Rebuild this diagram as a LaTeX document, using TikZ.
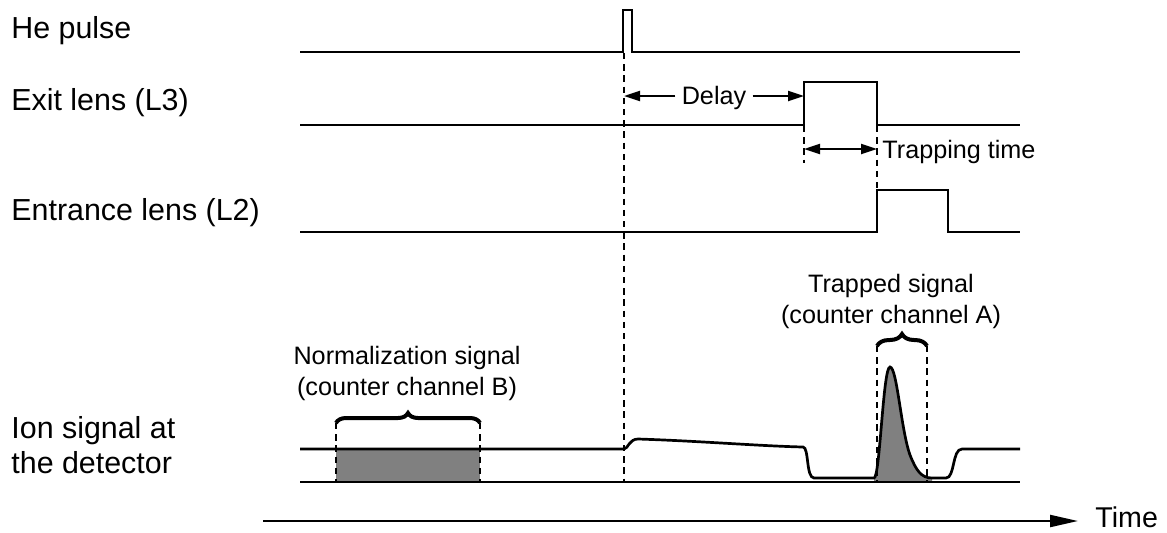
\documentclass[tikz,border=0pt]{standalone}
\usepackage{fontspec}
\setmainfont{Liberation Sans}
\usetikzlibrary{arrows.meta,decorations.pathreplacing}
\begin{document}
\begin{tikzpicture}[x=0.5pt,y=-0.5pt,
  wave/.style={line width=1.35pt, line join=miter},
  guide/.style={line width=1.4pt, dash pattern=on 3.2pt off 2.4pt},
  dimarrow/.style={line width=1.1pt, -{Triangle[length=8pt,width=5pt]}},
  dimboth/.style={line width=1.1pt, {Triangle[length=8pt,width=5pt]}-{Triangle[length=8pt,width=5pt]}},
  timearrow/.style={line width=1.1pt, -{Triangle[length=14pt,width=6pt]}},
  rowlabel/.style={font=\fontsize{15.2}{17.5}\selectfont, inner sep=0pt, anchor=base west, align=left},
  note/.style={font=\fontsize{12.6}{14.5}\selectfont, inner sep=0pt},
  brc/.style={decorate, decoration={brace, amplitude=#1}, line width=2pt},
  shade/.style={fill=gray, draw=none}
]
\useasboundingbox (0,0) rectangle (1167,532);

% row labels (multi-line nodes are anchored on their last baseline)
\node[rowlabel] (he)   at (11,38)  {He pulse};
\node[rowlabel] (exit) at (11,110) {Exit lens (L3)};
\node[rowlabel] (entr) at (11,220) {Entrance lens (L2)};
\node[rowlabel] (ion)  at (11,473) {Ion signal at\\the detector};

% shaded integration windows
\fill[shade] (336,449) rectangle (480,482);
\fill[shade] (874,482) -- (874,478)
  .. controls (880,478) and (883,367) .. (890,367)
  .. controls (897,367) and (901,430) .. (910,455)
  .. controls (916,470) and (921,478) .. (932,478) -- (932,482) -- cycle;

% dashed timing guides
\draw[guide] (624,53)  -- (624,482);
\draw[guide] (804,126) -- (804,163);
\draw[guide] (877,126) -- (877,190);
\draw[guide] (336,423) -- (336,482);
\draw[guide] (480,423) -- (480,482);
\draw[guide] (877,346) -- (877,482);
\draw[guide] (927,346) -- (927,482);

% He pulse
\draw[wave] (300,52) -- (623,52) -- (623,10) -- (632,10) -- (632,52) -- (1020,52);
% exit lens L3
\draw[wave] (300,125) -- (804,125) -- (804,82) -- (877,82) -- (877,125) -- (1020,125);
% entrance lens L2
\draw[wave] (300,232) -- (877,232) -- (877,190) -- (948,190) -- (948,232) -- (1020,232);

% ion signal: zero line and detector trace
\draw[wave] (300,482) -- (1020,482);
\draw[wave] (300,449) -- (624,449)
  .. controls (628,449) and (629,439) .. (638,439)
  .. controls (700,441) and (760,446) .. (803,447)
  .. controls (809,447) and (806,478) .. (814,478)
  -- (874,478)
  .. controls (880,478) and (883,367) .. (890,367)
  .. controls (897,367) and (901,430) .. (910,455)
  .. controls (916,470) and (921,478) .. (932,478)
  -- (946,478)
  .. controls (955,478) and (952,449) .. (962,449)
  -- (1020,449);

% delay
\coordinate (d0) at (624,96);
\coordinate (d1) at (804,96);
\node[note, inner xsep=3pt] (delay) at (714,104) [anchor=base] {Delay};
\draw[dimarrow] (delay.west |- d0) -- (d0);
\draw[dimarrow] (delay.east |- d1) -- (d1);

% trapping time
\coordinate (s0) at (804,149);
\coordinate (s1) at (877,149);
\draw[dimboth] (s0) -- (s1);
\node[note, anchor=base west] (trap) at (882,158) {Trapping time};

% counter windows
\draw[brc=5pt] (336,423) -- (480,423);
\draw[brc=6pt] (877,346) -- (927,346);
\node[note, anchor=base, align=center] (norm) at (407,395)
  {Normalization signal\\[1pt](counter channel B)};
\node[note, anchor=base, align=center] (trapped) at (891,323)
  {Trapped signal\\[1pt](counter channel A)};

% time axis
\coordinate (ta) at (263,521);
\coordinate (tb) at (1078,521);
\draw[timearrow] (ta) -- (tb);
\node[font=\fontsize{14.3}{17}\selectfont, inner sep=0pt, anchor=base west] (time) at (1095,527) {Time};
\end{tikzpicture}
\end{document}
